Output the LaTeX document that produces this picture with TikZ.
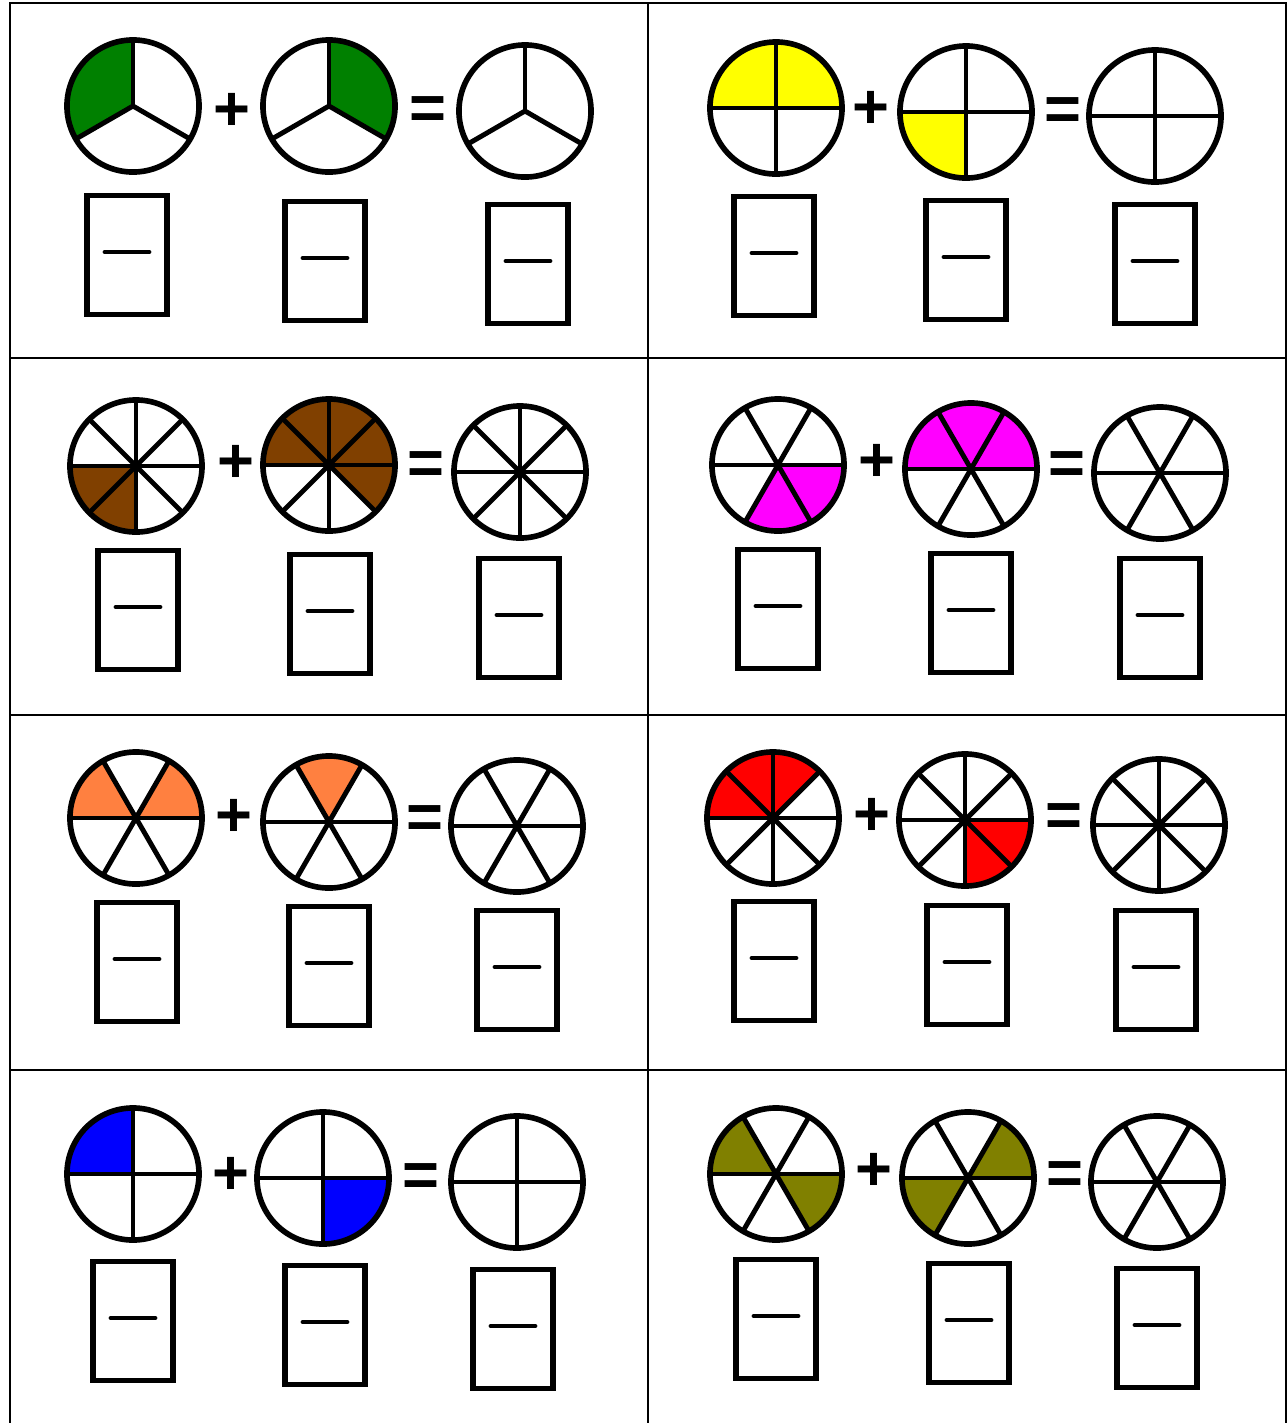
\documentclass[tikz,border=0pt]{standalone}
\usepackage{fontspec}
\setmainfont{Liberation Sans}
\usetikzlibrary{calc}
\definecolor{pgreen}{RGB}{0,128,0}
\definecolor{pyellow}{RGB}{255,255,0}
\definecolor{pbrown}{RGB}{128,64,0}
\definecolor{pmagenta}{RGB}{255,0,255}
\definecolor{porange}{RGB}{255,128,64}
\definecolor{pred}{RGB}{255,0,0}
\definecolor{pblue}{RGB}{0,0,255}
\definecolor{polive}{RGB}{128,128,0}
% circle cut into #3 equal parts, first cut at angle #4
\newcommand{\pieframe}[4]{%
  \foreach \k in {1,...,#3} {
    \draw[spoke] (#1,#2) -- ++({#4+\k*360/#3}:0.66cm);
  }
  \draw[rim] (#1,#2) circle[radius=0.66cm];
}
% same, with the parts listed in #6 filled in colour #5
\newcommand{\piefill}[6]{%
  \foreach \k in {#6} {
    \fill[#5] (#1,#2) -- ++({#4+\k*360/#3}:0.66cm)
      arc[start angle={#4+\k*360/#3}, delta angle={360/#3}, radius=0.66cm] -- cycle;
  }
  \pieframe{#1}{#2}{#3}{#4}
}
% empty answer box with its fraction bar
\newcommand{\ansbox}[3]{%
  \node[answer] (#1) at (#2,#3) {};
  \draw[fbar] ($(#1.center)+(-22,3)$) -- ($(#1.center)+(22,3)$);
}
\begin{document}
\begin{tikzpicture}[x=0.01cm, y=0.01cm,
    rim/.style={line width=1.6pt},
    spoke/.style={line width=1.4pt},
    answer/.style={draw, line width=1.5pt, minimum width=0.8cm, minimum height=1.19cm, inner sep=0pt},
    fbar/.style={line width=1.4pt, line cap=round},
    sign/.style={font=\fontsize{18}{18}\selectfont\bfseries, inner sep=0pt},
    grid/.style={line width=0.6pt}]
    \useasboundingbox (0,0) rectangle (1288,-1423);
    \fill[white] (0,0) rectangle (1288,-1423);
    % table lines
    \draw[grid] (10,-1423) -- (10,-3) -- (1286,-3) -- (1286,-1423);
    \draw[grid] (648,-3) -- (648,-1423);
    \foreach \y in {358, 715, 1070} {
        \draw[grid] (10,-\y) -- (1286,-\y);
    }
    % row 1, left: thirds
    \piefill{133}{-106}{3}{90}{pgreen}{0}
    \piefill{329}{-106}{3}{90}{pgreen}{2}
    \pieframe{525}{-111}{3}{90}
    \node[sign] (p1) at (232,-112) {+};
    \node[sign] (e1) at (428,-113) {=};
    \ansbox{a1}{127}{-255} \ansbox{b1}{325}{-261} \ansbox{c1}{528}{-264}
    % row 1, right: quarters
    \piefill{776}{-108}{4}{0}{pyellow}{0,1}
    \piefill{966}{-112}{4}{0}{pyellow}{2}
    \pieframe{1155}{-116}{4}{0}
    \node[sign] (p2) at (871,-110) {+};
    \node[sign] (e2) at (1063,-114) {=};
    \ansbox{a2}{774}{-256} \ansbox{b2}{966}{-260} \ansbox{c2}{1155}{-264}
    % row 2, left: eighths
    \piefill{136}{-466}{8}{0}{pbrown}{4,5}
    \piefill{329}{-465}{8}{0}{pbrown}{0,1,2,3,7}
    \pieframe{520}{-472}{8}{0}
    \node[sign] (p3) at (236,-464) {+};
    \node[sign] (e3) at (426,-468) {=};
    \ansbox{a3}{138}{-610} \ansbox{b3}{330}{-614} \ansbox{c3}{519}{-618}
    % row 2, right: sixths
    \piefill{778}{-465}{6}{0}{pmagenta}{4,5}
    \piefill{971}{-469}{6}{0}{pmagenta}{0,1,2}
    \pieframe{1160}{-473}{6}{0}
    \node[sign] (p4) at (877,-463) {+};
    \node[sign] (e4) at (1067,-468) {=};
    \ansbox{a4}{778}{-609} \ansbox{b4}{971}{-613} \ansbox{c4}{1160}{-618}
    % row 3, left: sixths
    \piefill{136}{-818}{6}{0}{porange}{0,2}
    \piefill{329}{-822}{6}{0}{porange}{1}
    \pieframe{517}{-826}{6}{0}
    \node[sign] (p5) at (234,-818) {+};
    \node[sign] (e5) at (425,-822) {=};
    \ansbox{a5}{137}{-962} \ansbox{b5}{329}{-966} \ansbox{c5}{517}{-970}
    % row 3, right: eighths
    \piefill{773}{-818}{8}{0}{pred}{1,2,3}
    \piefill{965}{-820}{8}{0}{pred}{6,7}
    \pieframe{1159}{-825}{8}{0}
    \node[sign] (p6) at (872,-817) {+};
    \node[sign] (e6) at (1064,-820) {=};
    \ansbox{a6}{774}{-961} \ansbox{b6}{967}{-965} \ansbox{c6}{1156}{-970}
    % row 4, left: quarters
    \piefill{133}{-1174}{4}{0}{pblue}{1}
    \piefill{323}{-1178}{4}{0}{pblue}{3}
    \pieframe{517}{-1182}{4}{0}
    \node[sign] (p7) at (231,-1176) {+};
    \node[sign] (e7) at (421,-1180) {=};
    \ansbox{a7}{133}{-1321} \ansbox{b7}{325}{-1325} \ansbox{c7}{513}{-1329}
    % row 4, right: sixths
    \piefill{776}{-1174}{6}{0}{polive}{2,5}
    \piefill{968}{-1178}{6}{0}{polive}{0,3}
    \pieframe{1157}{-1182}{6}{0}
    \node[sign] (p8) at (874,-1172) {+};
    \node[sign] (e8) at (1065,-1178) {=};
    \ansbox{a8}{776}{-1319} \ansbox{b8}{969}{-1323} \ansbox{c8}{1157}{-1328}
\end{tikzpicture}
\end{document}
